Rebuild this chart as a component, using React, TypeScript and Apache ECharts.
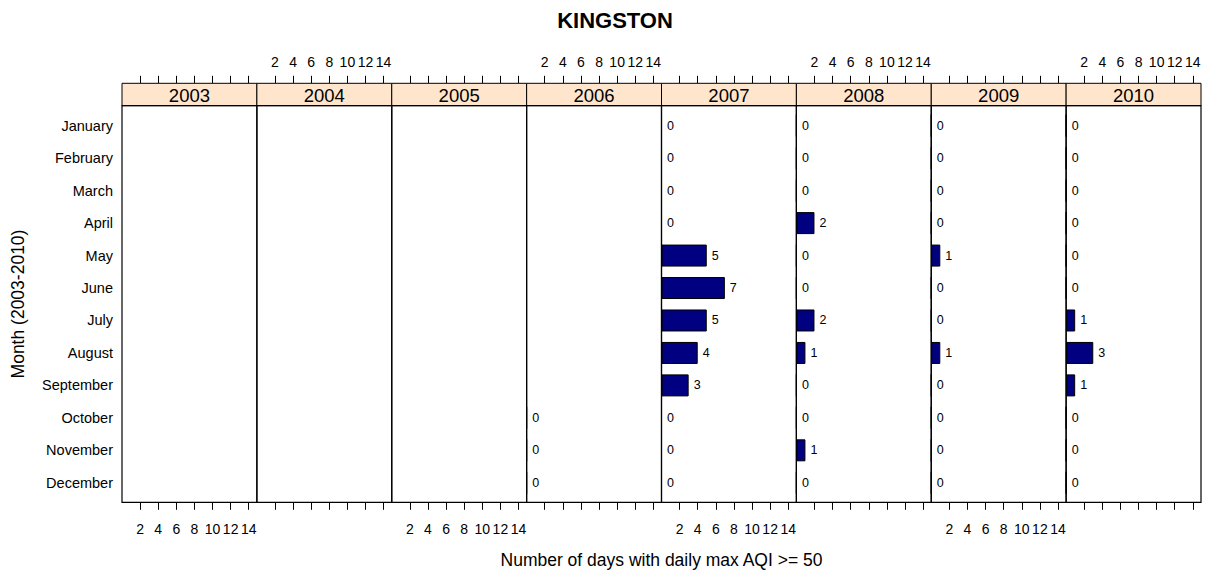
import React, { useEffect, useRef } from "react";
import * as echarts from "echarts";

const YEARS = ["2003", "2004", "2005", "2006", "2007", "2008", "2009", "2010"];
const MONTHS = [
  "January", "February", "March", "April", "May", "June",
  "July", "August", "September", "October", "November", "December",
];
const DAYS_2003 = [null, null, null, null, null, null, null, null, null, null, null, null];
const DAYS_2004 = [null, null, null, null, null, null, null, null, null, null, null, null];
const DAYS_2005 = [null, null, null, null, null, null, null, null, null, null, null, null];
const DAYS_2006 = [null, null, null, null, null, null, null, null, null, 0, 0, 0];
const DAYS_2007 = [0, 0, 0, 0, 5, 7, 5, 4, 3, 0, 0, 0];
const DAYS_2008 = [0, 0, 0, 2, 0, 0, 2, 1, 0, 0, 1, 0];
const DAYS_2009 = [0, 0, 0, 0, 1, 0, 0, 1, 0, 0, 0, 0];
const DAYS_2010 = [0, 0, 0, 0, 0, 0, 1, 3, 1, 0, 0, 0];
const SERIES = [DAYS_2003, DAYS_2004, DAYS_2005, DAYS_2006, DAYS_2007, DAYS_2008, DAYS_2009, DAYS_2010];
const X_TICKS = [2, 4, 6, 8, 10, 12, 14];
const X_MAX = 14.9;

const FONT = "'Liberation Sans', Arial, Helvetica, sans-serif";

export default function App() {
  const ref = useRef<HTMLDivElement>(null);

  useEffect(() => {
    document.body.style.margin = "0";
    if (!ref.current) return;
    const chart = echarts.init(ref.current, null, { renderer: "svg" });

    const panelLeft = 122;
    const panelRight = 1201;
    const n = YEARS.length;
    const pw = (panelRight - panelLeft) / n;
    const frameTop = 105.7;
    const frameBottom = 502.3;
    const stripTop = 83.3;
    const innerTop = 109.5;
    const innerH = 389.5;

    const grids: any[] = [];
    const xAxes: any[] = [];
    const yAxes: any[] = [];
    const series: any[] = [];
    const graphics: any[] = [];

    YEARS.forEach((year, i) => {
      const left = panelLeft + i * pw;
      grids.push({ left, top: innerTop, width: pw, height: innerH, containLabel: false });
      const common = {
        type: "value",
        gridIndex: i,
        min: 0,
        max: X_MAX,
        splitLine: { show: false },
        axisLine: { show: false },
        axisTick: {
          show: true,
          inside: false,
          length: 7.5,
          customValues: X_TICKS,
          lineStyle: { color: "#000", width: 1 },
        },
      };
      xAxes.push({
        ...common,
        position: "bottom",
        offset: frameBottom - (innerTop + innerH),
        axisLabel: {
          show: i % 2 === 0,
          customValues: X_TICKS,
          margin: 20,
          fontSize: 14,
          color: "#000",
          fontFamily: FONT,
        },
      });
      xAxes.push({
        ...common,
        position: "top",
        offset: innerTop - stripTop,
        axisLabel: {
          show: i % 2 === 1,
          customValues: X_TICKS,
          margin: 14,
          fontSize: 14,
          color: "#000",
          fontFamily: FONT,
        },
      });
      yAxes.push({
        type: "category",
        gridIndex: i,
        data: MONTHS,
        inverse: true,
        axisLine: { show: false },
        axisTick: { show: false },
        splitLine: { show: false },
        axisLabel: {
          show: i === 0,
          margin: 9,
          fontSize: 14.5,
          color: "#000",
          fontFamily: FONT,
        },
      });
      series.push({
        type: "bar",
        xAxisIndex: i * 2,
        yAxisIndex: i,
        data: SERIES[i],
        barWidth: 22,
        itemStyle: { color: "#000080", borderColor: "#000", borderWidth: 1 },
        label: {
          show: true,
          position: "right",
          distance: 5,
          fontSize: 12.5,
          color: "#000",
          fontFamily: FONT,
        },
      });
      graphics.push({
        type: "rect",
        shape: { x: left, y: frameTop, width: pw, height: frameBottom - frameTop },
        style: { fill: "none", stroke: "#000", lineWidth: 1.2 },
        z: 10,
      });
      graphics.push({
        type: "rect",
        shape: { x: left, y: stripTop, width: pw, height: frameTop - stripTop },
        style: { fill: "#ffe5cc", stroke: "#000", lineWidth: 1 },
        z: 9,
      });
      graphics.push({
        type: "text",
        x: left + pw / 2,
        y: (stripTop + frameTop) / 2 + 0.5,
        style: {
          text: year,
          fill: "#000",
          font: `18.5px ${FONT}`,
          textAlign: "center",
          textVerticalAlign: "middle",
        },
        z: 11,
      });
    });

    graphics.push({
      type: "text",
      x: 615,
      y: 20,
      style: {
        text: "KINGSTON",
        fill: "#000",
        font: `bold 22px ${FONT}`,
        textAlign: "center",
        textVerticalAlign: "middle",
      },
    });
    graphics.push({
      type: "text",
      x: (panelLeft + panelRight) / 2,
      y: 560,
      style: {
        text: "Number of days with daily max AQI >= 50",
        fill: "#000",
        font: `17.5px ${FONT}`,
        textAlign: "center",
        textVerticalAlign: "middle",
      },
    });
    graphics.push({
      type: "text",
      x: 18,
      y: (frameTop + frameBottom) / 2,
      rotation: Math.PI / 2,
      style: {
        text: "Month (2003-2010)",
        fill: "#000",
        font: `17.5px ${FONT}`,
        textAlign: "center",
        textVerticalAlign: "middle",
      },
    });

    chart.setOption({
      animation: false,
      backgroundColor: "#fff",
      grid: grids,
      xAxis: xAxes,
      yAxis: yAxes,
      series,
      graphic: graphics,
    });

    return () => chart.dispose();
  }, []);

  return <div ref={ref} style={{ width: 1205, height: 572 }} />;
}
